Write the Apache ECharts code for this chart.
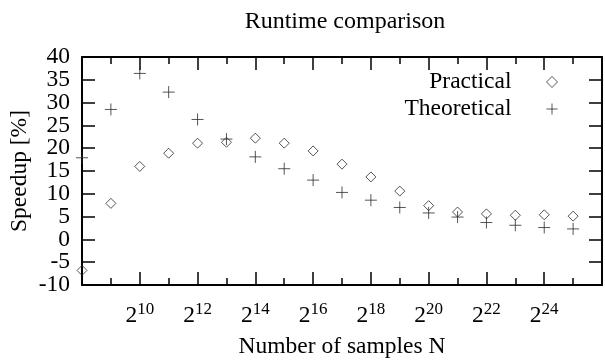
<!DOCTYPE html>
<html>
<head>
<meta charset="utf-8">
<script src="https://cdn.jsdelivr.net/npm/echarts@6/dist/echarts.min.js"></script>
<style>html,body{margin:0;padding:0;background:#fff}#c{width:605px;height:364px}</style>
</head>
<body>
<div id="c"></div>
<script>
// exponents of N (N = 2^k)
var exponents = [8, 9, 10, 11, 12, 13, 14, 15, 16, 17, 18, 19, 20, 21, 22, 23, 24, 25];
var practical = [-6.8, 7.9, 16.0, 18.9, 21.1, 21.3, 22.2, 21.1, 19.4, 16.5, 13.7, 10.6, 7.4, 6.0, 5.6, 5.3, 5.4, 5.1];
var theoretical = [17.9, 28.5, 36.4, 32.3, 26.3, 22.0, 18.1, 15.5, 13.0, 10.3, 8.6, 7.0, 5.8, 4.9, 3.7, 3.1, 2.6, 2.3];
var xLabelExponents = [10, 12, 14, 16, 18, 20, 22, 24];
var yTicks = [-10, -5, 0, 5, 10, 15, 20, 25, 30, 35, 40];

var FONT = 'Liberation Serif';
var INK = '#000';
var MARK = '#2a2a2a';
var PLUS = 'path://M0,6H12M6,0V12';

function pairs(ys) { return exponents.map(function (k, i) { return [k, ys[i]]; }); }

var chart = echarts.init(document.getElementById('c'), null, { renderer: 'canvas' });

var xCommon = {
  type: 'value', min: 8, max: 26, interval: 2,
  axisLine: { onZero: false, lineStyle: { color: INK, width: 2 } },
  axisTick: { inside: true, length: 13, lineStyle: { color: INK, width: 1.5 } },
  minorTick: { show: true, splitNumber: 2, length: 7, lineStyle: { color: INK, width: 1.5 } },
  splitLine: { show: false }, minorSplitLine: { show: false }
};
var yCommon = {
  type: 'value', min: yTicks[0], max: yTicks[yTicks.length - 1], interval: 5,
  axisLine: { onZero: false, lineStyle: { color: INK, width: 2 } },
  axisTick: { inside: true, length: 13, lineStyle: { color: INK, width: 1.5 } },
  splitLine: { show: false }
};
var yLabelStyle = { margin: 12, color: INK, fontFamily: FONT, fontSize: 23.5 };

chart.setOption({
  animation: false,
  backgroundColor: '#fff',
  title: {
    text: 'Runtime comparison', left: 345, top: 10, padding: 0, textAlign: 'center',
    textStyle: { fontFamily: FONT, fontSize: 24, fontWeight: 'normal', color: INK }
  },
  legend: {
    orient: 'vertical', align: 'right', right: 47, top: 70, padding: 0,
    itemWidth: 11, itemHeight: 11, itemGap: 3,
    textStyle: { fontFamily: FONT, fontSize: 23.5, color: INK, lineHeight: 24, padding: [0, 30, 0, 0] },
    data: [
      { name: 'Practical', icon: 'diamond', itemStyle: { color: 'rgba(0,0,0,0)', borderColor: MARK, borderWidth: 1 } },
      { name: 'Theoretical', icon: PLUS, itemStyle: { color: 'rgba(0,0,0,0)', borderColor: MARK, borderWidth: 1 } }
    ]
  },
  grid: { left: 81, right: -1, top: 57, bottom: 72, containLabel: false },
  xAxis: [
    Object.assign({}, xCommon, {
      position: 'bottom',
      name: 'Number of samples N', nameLocation: 'middle', nameGap: 50,
      nameTextStyle: { fontFamily: FONT, fontSize: 23.5, color: INK },
      axisLabel: {
        margin: 16, color: INK,
        formatter: function (v) {
          return xLabelExponents.indexOf(v) >= 0 ? '{b|2}{s|' + v + '}' : '';
        },
        rich: {
          b: { fontFamily: FONT, fontSize: 23.5, color: INK, lineHeight: 27, verticalAlign: 'bottom' },
          s: { fontFamily: FONT, fontSize: 17, color: INK, lineHeight: 17, verticalAlign: 'top' }
        }
      }
    }),
    Object.assign({}, xCommon, { position: 'top', axisLabel: { show: false } })
  ],
  yAxis: [
    // main left axis: line, ticks every 5, labels at odd multiples of 5
    Object.assign({}, yCommon, {
      position: 'left',
      name: 'Speedup [%]', nameLocation: 'middle', nameGap: 50, nameRotate: 90,
      nameTextStyle: { fontFamily: FONT, fontSize: 23.5, color: INK },
      axisLabel: Object.assign({}, yLabelStyle, {
        formatter: function (v) { return (v % 10 !== 0) ? String(v) : ''; }
      })
    }),
    // right mirror axis: ticks only
    Object.assign({}, yCommon, { position: 'right', axisLabel: { show: false } }),
    // left label-only axis: labels at multiples of 10
    {
      type: 'value', position: 'left', min: yTicks[0], max: yTicks[yTicks.length - 1], interval: 10,
      axisLine: { show: false }, axisTick: { show: false }, splitLine: { show: false },
      axisLabel: yLabelStyle
    }
  ],
  series: [
    {
      name: 'Practical', type: 'scatter', xAxisIndex: 0, yAxisIndex: 0,
      symbol: 'diamond', symbolSize: 10, clip: false,
      itemStyle: { color: 'rgba(0,0,0,0)', borderColor: MARK, borderWidth: 1 },
      data: pairs(practical)
    },
    {
      name: 'Theoretical', type: 'scatter', xAxisIndex: 0, yAxisIndex: 0,
      symbol: PLUS, symbolSize: 12, clip: false,
      itemStyle: { color: 'rgba(0,0,0,0)', borderColor: MARK, borderWidth: 1 },
      data: pairs(theoretical)
    }
  ]
});
</script>
</body>
</html>
